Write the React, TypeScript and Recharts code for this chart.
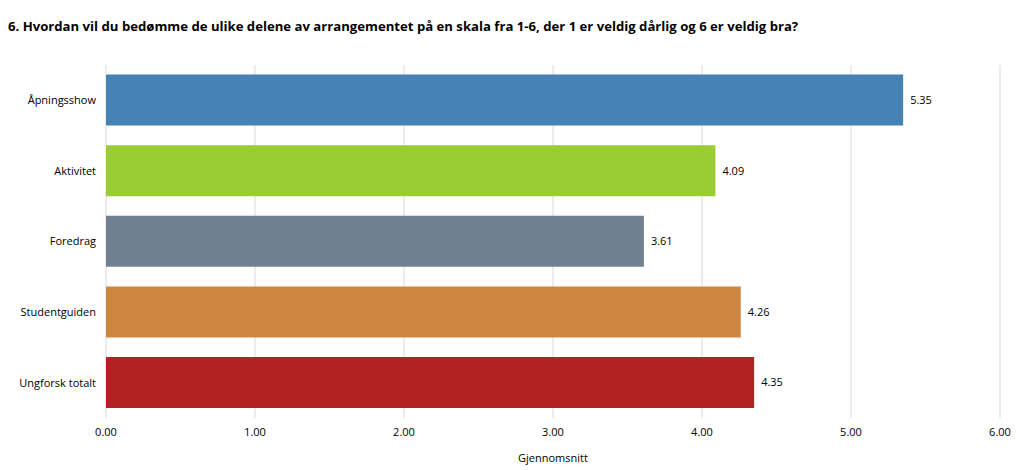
import { Bar, BarChart, CartesianGrid, Cell, Label, LabelList, XAxis, YAxis } from 'recharts'

const categories = ['Åpningsshow', 'Aktivitet', 'Foredrag', 'Studentguiden', 'Ungforsk totalt']
const averages = [5.35, 4.09, 3.61, 4.26, 4.35]
const colors = ['#4682b4', '#9acd32', '#708090', '#cd853f', '#b22222']
const xTicks = [0, 1, 2, 3, 4, 5, 6]

const title =
  '6. Hvordan vil du bedømme de ulike delene av arrangementet på en skala fra 1-6, der 1 er veldig dårlig og 6 er veldig bra?'

const data = categories.map((name, i) => ({ name, value: averages[i] }))

const FONT = '"Open Sans", "Liberation Sans", sans-serif'

export default function App() {
  return (
    <div style={{ position: 'absolute', left: 0, top: 0, width: 1024, height: 470, background: '#fff' }}>
      <div
        style={{
          position: 'absolute',
          left: 8,
          top: 17,
          fontFamily: FONT,
          fontWeight: 700,
          fontSize: 13.15,
          whiteSpace: 'nowrap',
          color: '#000',
        }}
      >
        {title}
      </div>
      <BarChart
        width={1024}
        height={470}
        data={data}
        layout="vertical"
        margin={{ top: 65, right: 24, bottom: 0, left: 0 }}
        barCategoryGap="13.6%"
      >
        <CartesianGrid horizontal={false} stroke="#d9d9d9" />
        <XAxis
          type="number"
          domain={[0, 6]}
          ticks={xTicks}
          tickFormatter={(v: number) => v.toFixed(2)}
          axisLine={false}
          tickLine={false}
          tickMargin={4}
          height={52}
          tick={{ fontSize: 11, fill: '#000', fontFamily: FONT }}
        >
          <Label
            value="Gjennomsnitt"
            position="insideBottom"
            offset={8}
            style={{ fontSize: 11, fill: '#000', fontFamily: FONT }}
          />
        </XAxis>
        <YAxis
          type="category"
          dataKey="name"
          width={106}
          axisLine={false}
          tickLine={false}
          tickMargin={4}
          tick={{ fontSize: 11, fill: '#000', fontFamily: FONT }}
        />
        <Bar dataKey="value" isAnimationActive={false}>
          {data.map((d, i) => (
            <Cell key={d.name} fill={colors[i]} />
          ))}
          <LabelList
            dataKey="value"
            position="right"
            offset={7}
            formatter={(v: number) => v.toFixed(2)}
            style={{ fontSize: 11, fill: '#000', fontFamily: FONT }}
          />
        </Bar>
      </BarChart>
    </div>
  )
}
